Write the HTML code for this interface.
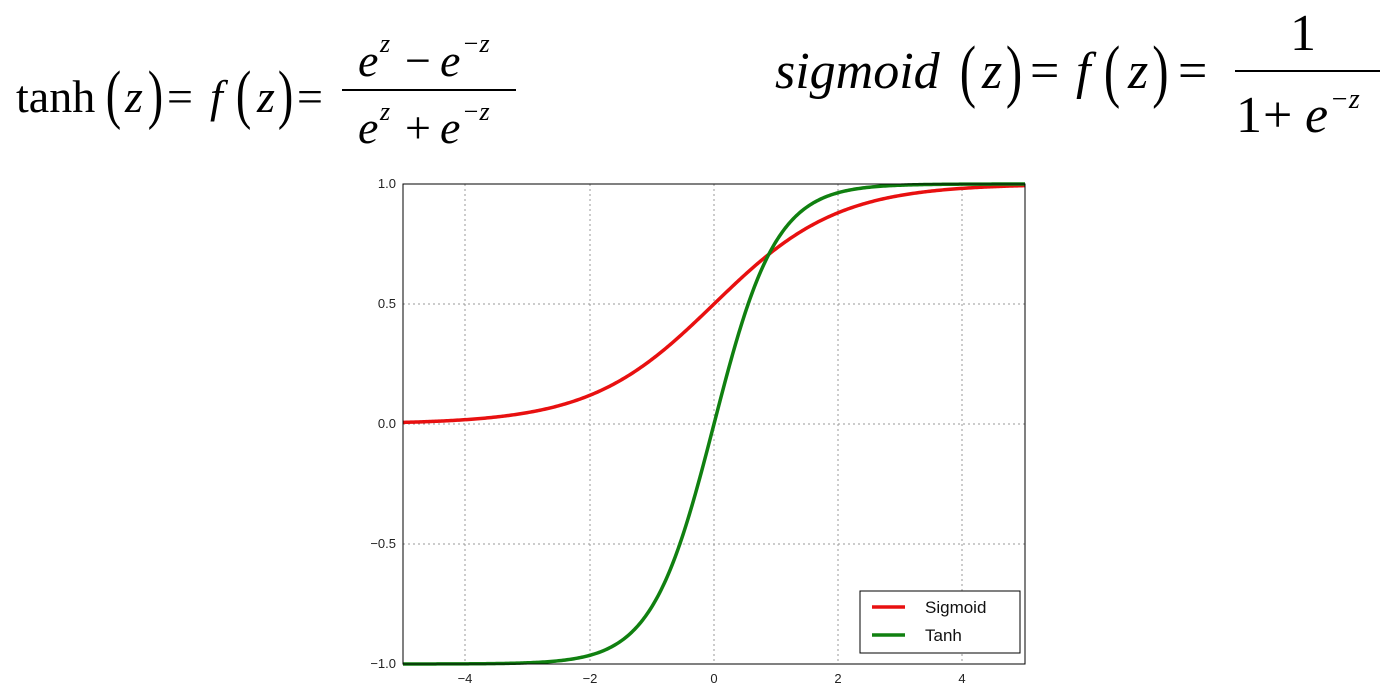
<!DOCTYPE html>
<html><head><meta charset="utf-8"><style>
html,body{margin:0;padding:0;background:#fff;}
</style></head><body>
<svg width="1398" height="696" xmlns="http://www.w3.org/2000/svg" style="display:block">
<g font-family="Liberation Serif, serif" fill="#000">
 <text x="16" y="112" font-size="46">tanh</text>
 <text x="106" y="116" font-size="66" transform="scale(0.7,1) translate(45,0)">(</text>
 <text x="125" y="112" font-size="46" font-style="italic">z</text>
 <text x="148" y="116" font-size="66" transform="scale(0.7,1) translate(63,0)">)</text>
 <text x="167" y="112" font-size="46">=</text>
 <text x="210" y="112" font-size="46" font-style="italic">f</text>
 <text x="236" y="116" font-size="66" transform="scale(0.7,1) translate(101,0)">(</text>
 <text x="257" y="112" font-size="46" font-style="italic">z</text>
 <text x="278" y="116" font-size="66" transform="scale(0.7,1) translate(119,0)">)</text>
 <text x="297" y="112" font-size="46">=</text>
 <rect x="342" y="89" width="174" height="2"/>
 <text x="358" y="76" font-size="46" font-style="italic">e</text>
 <text x="380" y="52" font-size="26" font-style="italic">z</text>
 <text x="405" y="76" font-size="46">−</text>
 <text x="440" y="76" font-size="46" font-style="italic">e</text>
 <text x="462" y="52" font-size="26" font-style="italic">−z</text>
 <text x="358" y="143" font-size="46" font-style="italic">e</text>
 <text x="380" y="120" font-size="26" font-style="italic">z</text>
 <text x="405" y="143" font-size="46">+</text>
 <text x="440" y="143" font-size="46" font-style="italic">e</text>
 <text x="462" y="120" font-size="26" font-style="italic">−z</text>

 <text x="775" y="88" font-size="52" font-style="italic">sigmoid</text>
 <text x="960" y="94" font-size="70" transform="scale(0.7,1) translate(411,0)">(</text>
 <text x="982" y="88" font-size="52" font-style="italic">z</text>
 <text x="1006" y="94" font-size="70" transform="scale(0.7,1) translate(431,0)">)</text>
 <text x="1030" y="88" font-size="52">=</text>
 <text x="1076" y="88" font-size="52" font-style="italic">f</text>
 <text x="1104" y="94" font-size="70" transform="scale(0.7,1) translate(473,0)">(</text>
 <text x="1128" y="88" font-size="52" font-style="italic">z</text>
 <text x="1152" y="94" font-size="70" transform="scale(0.7,1) translate(494,0)">)</text>
 <text x="1178" y="88" font-size="52">=</text>
 <rect x="1235" y="70" width="145" height="2"/>
 <text x="1290" y="50" font-size="52">1</text>
 <text x="1236" y="132" font-size="52">1</text>
 <text x="1263" y="132" font-size="52">+</text>
 <text x="1305" y="132" font-size="52" font-style="italic">e</text>
 <text x="1330" y="108" font-size="28" font-style="italic">−z</text>
</g>
<g id="plot">
 <g stroke="#999" stroke-width="1" stroke-dasharray="2,3">
  <line x1="465" y1="184" x2="465" y2="664"/>
  <line x1="590" y1="184" x2="590" y2="664"/>
  <line x1="714" y1="184" x2="714" y2="664"/>
  <line x1="838" y1="184" x2="838" y2="664"/>
  <line x1="962" y1="184" x2="962" y2="664"/>
  <line x1="403" y1="304" x2="1025" y2="304"/>
  <line x1="403" y1="424" x2="1025" y2="424"/>
  <line x1="403" y1="544" x2="1025" y2="544"/>
 </g>
 <path id="sig" fill="none" stroke="#e81010" stroke-width="3.5" d=""/>
 <path id="tanh" fill="none" stroke="#108010" stroke-width="3.5" d=""/>
 <rect x="403" y="184" width="622" height="480" fill="none" stroke="#000" stroke-width="1"/>
 <g font-family="Liberation Sans, sans-serif" font-size="13" fill="#222">
  <text x="396" y="188" text-anchor="end">1.0</text>
  <text x="396" y="308" text-anchor="end">0.5</text>
  <text x="396" y="428" text-anchor="end">0.0</text>
  <text x="396" y="548" text-anchor="end">−0.5</text>
  <text x="396" y="668" text-anchor="end">−1.0</text>
  <text x="465" y="683" text-anchor="middle">−4</text>
  <text x="590" y="683" text-anchor="middle">−2</text>
  <text x="714" y="683" text-anchor="middle">0</text>
  <text x="838" y="683" text-anchor="middle">2</text>
  <text x="962" y="683" text-anchor="middle">4</text>
 </g>
 <rect x="860" y="591" width="160" height="62" fill="#fff" stroke="#000" stroke-width="1"/>
 <line x1="872" y1="607" x2="905" y2="607" stroke="#e81010" stroke-width="3.5"/>
 <line x1="872" y1="635" x2="905" y2="635" stroke="#108010" stroke-width="3.5"/>
 <g font-family="Liberation Sans, sans-serif" font-size="17" fill="#111">
  <text x="925" y="613">Sigmoid</text>
  <text x="925" y="641">Tanh</text>
 </g>
</g>
<script>
(function(){
 function X(z){return 714+z*62.2;}
 function Y(v){return 424-v*240;}
 var s="",t="";
 for(var i=0;i<=400;i++){var z=-5+i*0.025;
  s+=(i?"L":"M")+X(z).toFixed(2)+","+Y(1/(1+Math.exp(-z))).toFixed(2);
  t+=(i?"L":"M")+X(z).toFixed(2)+","+Y(Math.tanh(z)).toFixed(2);}
 document.getElementById("sig").setAttribute("d",s);
 document.getElementById("tanh").setAttribute("d",t);
})();
</script>
</svg>
</body></html>
